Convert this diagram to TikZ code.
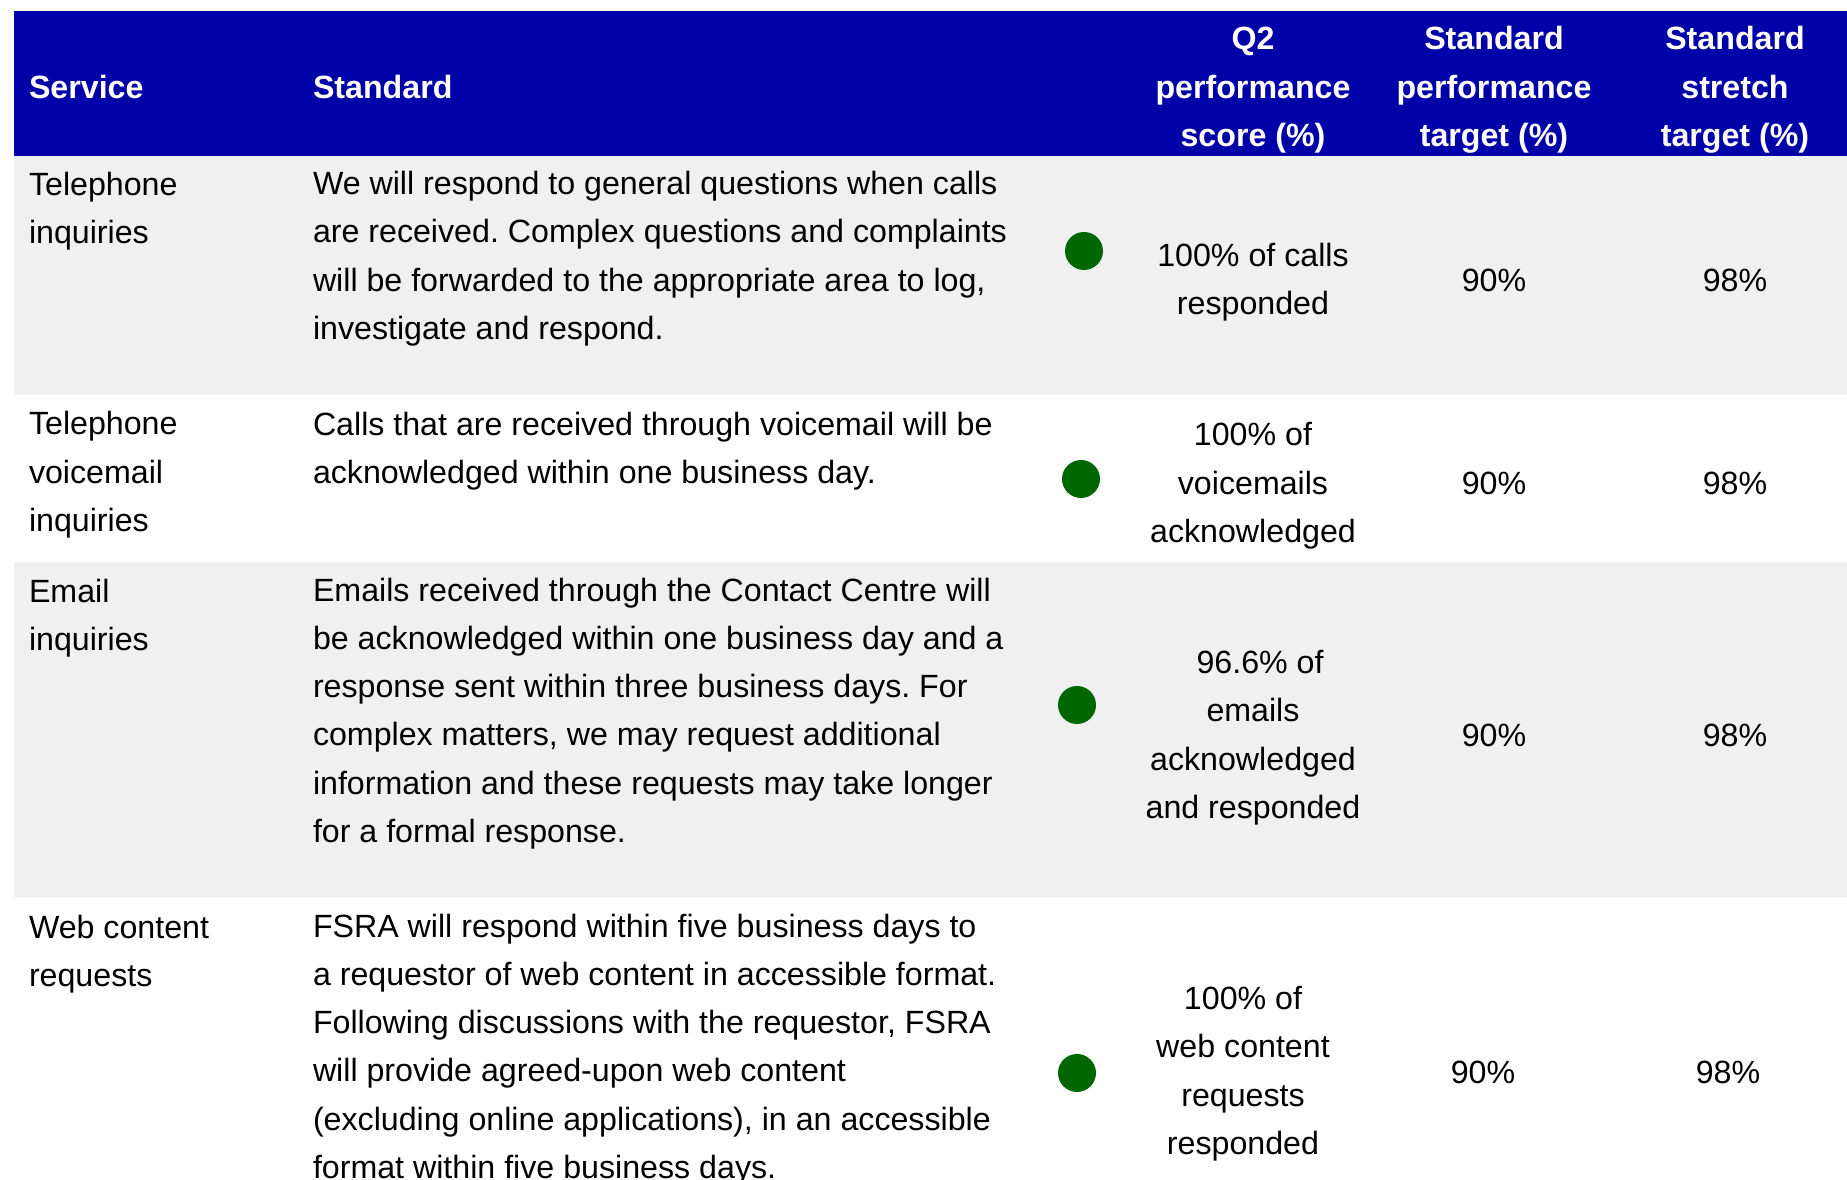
\documentclass[tikz,border=0pt]{standalone}
\usepackage{fontspec}
\setmainfont{Liberation Sans}
\usepackage{xcolor}
\usetikzlibrary{positioning}

\definecolor{headblue}{HTML}{0000A8}
\definecolor{rowgray}{HTML}{F0F0F0}
\definecolor{dotgreen}{HTML}{006600}

\frenchspacing
\begin{document}
\begin{tikzpicture}[x=0.01cm, y=-0.01cm,
  every node/.style={inner sep=0pt, outer sep=0pt, yshift=-0.3pt, font=\fontsize{9.15pt}{13.66pt}\selectfont},
  headcell/.style={text=white, font=\fontsize{9.15pt}{13.66pt}\selectfont\bfseries},
  cell/.style={align=left, anchor=base west},
  numcell/.style={align=center, anchor=base}]
  \useasboundingbox (0,0) rectangle (1847,1180);
  % backgrounds
  \fill[headblue] (14,11) rectangle (1847,156);
  \fill[rowgray] (14,156) rectangle (1847,395);
  \fill[rowgray] (14,562) rectangle (1847,897);

  % header (nodes sit on the baseline of their last line)
  \node[headcell, anchor=base west] (hservice) at (29,97) {Service};
  \node[headcell, anchor=base west] (hstandard) at (313,97) {Standard};
  \node[headcell, numcell] (hscore) at (1253,145) {Q2\\performance\\score (\%)};
  \node[headcell, numcell] (htarget) at (1494,145) {Standard\\performance\\target (\%)};
  \node[headcell, numcell] (hstretch) at (1735,145) {Standard\\stretch\\target (\%)};

  % row 1
  \node[cell] (phone) at (29,242) {Telephone\\inquiries};
  \node[cell] (phonestd) at (313,338) {We will respond to general questions when calls\\are received. Complex questions and complaints\\will be forwarded to the appropriate area to log,\\investigate and respond.};
  \fill[dotgreen] (1084,251) circle (19) coordinate (phonedot);
  \node[numcell] (phonescore) at (1253,313) {100\% of calls\\responded};
  \node[numcell] (phonetarget) at (1494,290) {90\%};
  \node[numcell] (phonestretch) at (1735,290) {98\%};

  % row 2
  \node[cell] (voice) at (29,530) {Telephone\\voicemail\\inquiries};
  \node[cell] (voicestd) at (313,482) {Calls that are received through voicemail will be\\acknowledged within one business day.};
  \fill[dotgreen] (1081,479) circle (19) coordinate (voicedot);
  \node[numcell] (voicescore) at (1253,541) {100\% of\\voicemails\\acknowledged};
  \node[numcell] (voicetarget) at (1494,493) {90\%};
  \node[numcell] (voicestretch) at (1735,493) {98\%};

  % row 3
  \node[cell] (email) at (29,649) {Email\\inquiries};
  \node[cell] (emailstd) at (313,841) {Emails received through the Contact Centre will\\be acknowledged within one business day and a\\response sent within three business days. For\\complex matters, we may request additional\\information and these requests may take longer\\for a formal response.};
  \fill[dotgreen] (1077,705) circle (19) coordinate (emaildot);
  \node[numcell] (emailscore) at (1253,817) {\hspace*{4pt}96.6\% of\\emails\\acknowledged\\and responded};
  \node[numcell] (emailtarget) at (1494,745) {90\%};
  \node[numcell] (emailstretch) at (1735,745) {98\%};

  % row 4
  \node[cell] (web) at (29,985) {Web content\\requests};
  \node[cell] (webstd) at (313,1177) {FSRA will respond within five business days to\\a requestor of web content in accessible format.\\Following discussions with the requestor, FSRA\\will provide agreed-upon web content\\(excluding online applications), in an accessible\\format within five business days.};
  \fill[dotgreen] (1077,1073) circle (19) coordinate (webdot);
  \node[numcell] (webscore) at (1243,1153) {100\% of\\web content\\requests\\responded};
  \node[numcell] (webtarget) at (1483,1082) {90\%};
  \node[numcell] (webstretch) at (1728,1082) {98\%};
\end{tikzpicture}
\end{document}
